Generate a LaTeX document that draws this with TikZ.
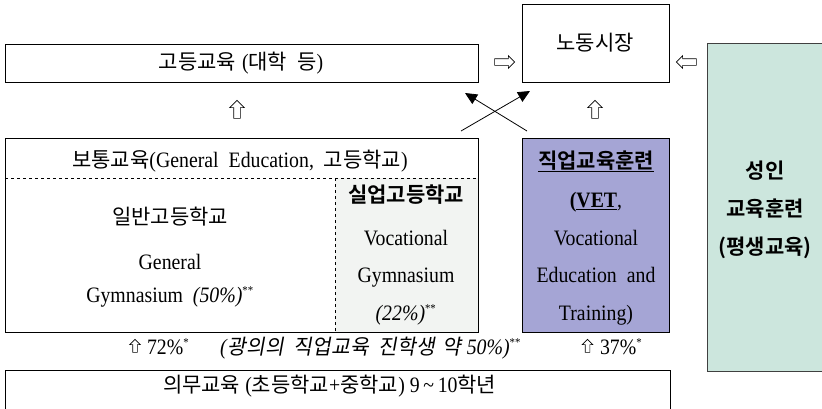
\documentclass[tikz,border=0pt]{standalone}
\usepackage{fontspec}
\setmainfont{Liberation Serif}[FakeStretch=0.9]
\newfontfamily\kr{Noto Sans CJK KR}
\newfontfamily\kri{Noto Sans CJK KR}[FakeStretch=0.97,FakeSlant=0.18]
\newfontfamily\krb{Noto Sans CJK KR Bold}
\usetikzlibrary{arrows.meta,shapes.arrows}
\definecolor{vetfill}{HTML}{A5A5D5}
\definecolor{adultfill}{HTML}{CCE6DD}
\definecolor{voggray}{HTML}{F2F4F2}
\newcommand{\sups}[1]{\textsuperscript{\fontsize{12}{12}\selectfont #1}}
\newcommand{\K}[1]{{\kr\fontsize{21}{24}\selectfont #1}}
\newcommand{\KI}[1]{{\kri\fontsize{21}{24}\selectfont #1}}
\newcommand{\KB}[1]{{\krb\fontsize{21}{24}\selectfont #1}}
\newcommand{\gapp}[1]{\hspace*{#1pt}}
\begin{document}
\begin{tikzpicture}[x=1pt,y=-1pt,
  box/.style={draw=black, line width=0.8pt, inner sep=0pt, outer sep=0pt},
  txt/.style={inner sep=0pt, outer sep=0pt, anchor=base, font=\fontsize{22}{25}\selectfont},
  hollow/.style={single arrow, draw=black, fill=white, line width=0.6pt, outer sep=0pt,
     single arrow head indent=0pt},
  uparr/.style={hollow, shape border rotate=90, inner sep=3pt, minimum height=18pt, single arrow head extend=4pt},
  smup/.style={hollow, shape border rotate=90, inner sep=2pt, minimum height=13pt, single arrow head extend=3pt},
  rtarr/.style={hollow, shape border rotate=0, inner sep=3pt, minimum height=20pt, single arrow head extend=3pt},
  ltarr/.style={hollow, shape border rotate=180, inner sep=3pt, minimum height=20pt, single arrow head extend=3pt}]
\useasboundingbox (0,0) rectangle (822,408);

% top row
\node[box, minimum width=473pt, minimum height=38pt] (hi) at (241.5,63) {};
\node[txt] (hit) at (241,69) {\K{고등교육}\gapp{6}(\K{대학}\gapp{10}\K{등})};
\node[box, minimum width=147pt, minimum height=78pt] (lab) at (595.5,43) {};
\node[txt] (labt) at (595,50) {\K{노동시장}};
\node[rtarr] (ra) at (503,62) {};
\node[ltarr] (la) at (688,62) {};

% adult box
\node[box, draw=black!75, fill=adultfill, minimum width=118pt, minimum height=328pt] (adult) at (766,207) {};
\node[txt] (ad1) at (765,178) {\KB{성인}};
\node[txt] (ad2) at (765,216) {\KB{교육훈련}};
\node[txt] (ad3) at (765,254) {\KB{(평생교육)}};

% up arrows
\node[uparr] (ua1) at (237,111) {};
\node[uparr] (ua2) at (595,111) {};

% crossing arrows
\coordinate (a1) at (461,131); \coordinate (a2) at (530,91);
\coordinate (b1) at (527,131); \coordinate (b2) at (465,93);
\draw[line width=0.8pt, -{Triangle[length=12pt,width=11pt]}] (a1) -- (a2);
\draw[line width=0.8pt, -{Triangle[length=12pt,width=11pt]}] (b1) -- (b2);

% general education box
\fill[voggray] (335,178) rectangle (478,332);
\node[box, minimum width=473pt, minimum height=194pt] (gen) at (241.5,235) {};
\coordinate (dl) at (5,178); \coordinate (dr) at (478,178);
\coordinate (vt) at (335,178); \coordinate (vb) at (335,332);
\draw[dashed, line width=0.8pt] (dl) -- (dr);
\draw[dashed, line width=0.8pt] (vt) -- (vb);
\node[txt] (gh) at (240,167) {\K{보통교육}(General\gapp{10}Education,\gapp{10}\K{고등학교})};
\node[txt] (g1) at (170,224) {\K{일반고등학교}};
\node[txt] (g2) at (170,269) {General};
\node[txt] (g3) at (170,302) {Gymnasium\ \ \textit{(50\%)}\sups{**}};
\node[txt] (v1) at (406,202) {\KB{실업고등학교}};
\node[txt] (v2) at (406,245) {Vocational};
\node[txt] (v3) at (406,282) {Gymnasium};
\node[txt] (v4) at (406,320) {\textit{(22\%)}\sups{**}};

% VET box
\node[box, fill=vetfill, minimum width=147pt, minimum height=194pt] (vet) at (595.5,235) {};
\node[txt] (vt1) at (596,168) {\underline{\KB{직업교육훈련}}};
\node[txt] (vt2) at (596,207) {\textbf{(\underline{VET}},};
\node[txt] (vt3) at (596,245) {Vocational};
\node[txt] (vt4) at (596,282) {Education\gapp{10}and};
\node[txt] (vt5) at (596,320) {Training)};

% bottom line
\node[smup] (ua3) at (135,347) {};
\node[txt, anchor=base west] (p72) at (147,354) {72\%\sups{*}};
\node[txt, anchor=base west] (pwide) at (220,354) {\textit{(}\KI{광의의}\gapp{10}\KI{직업교육}\gapp{10}\KI{진학생}\gapp{7}\KI{약}\gapp{6}\textit{50\%)}\sups{**}};
\node[smup] (ua4) at (587.5,347) {};
\node[txt, anchor=base west] (p37) at (600,354) {37\%\sups{*}};

% compulsory education box
\node[box, minimum width=665pt, minimum height=60pt] (comp) at (337.5,400) {};
\node[txt, anchor=base west] (ct) at (163,392) {\K{의무교육}\gapp{5}(\K{초등학교}+\K{중학교})\gapp{5}9\,\textasciitilde\,10\K{학년}};
\end{tikzpicture}
\end{document}
